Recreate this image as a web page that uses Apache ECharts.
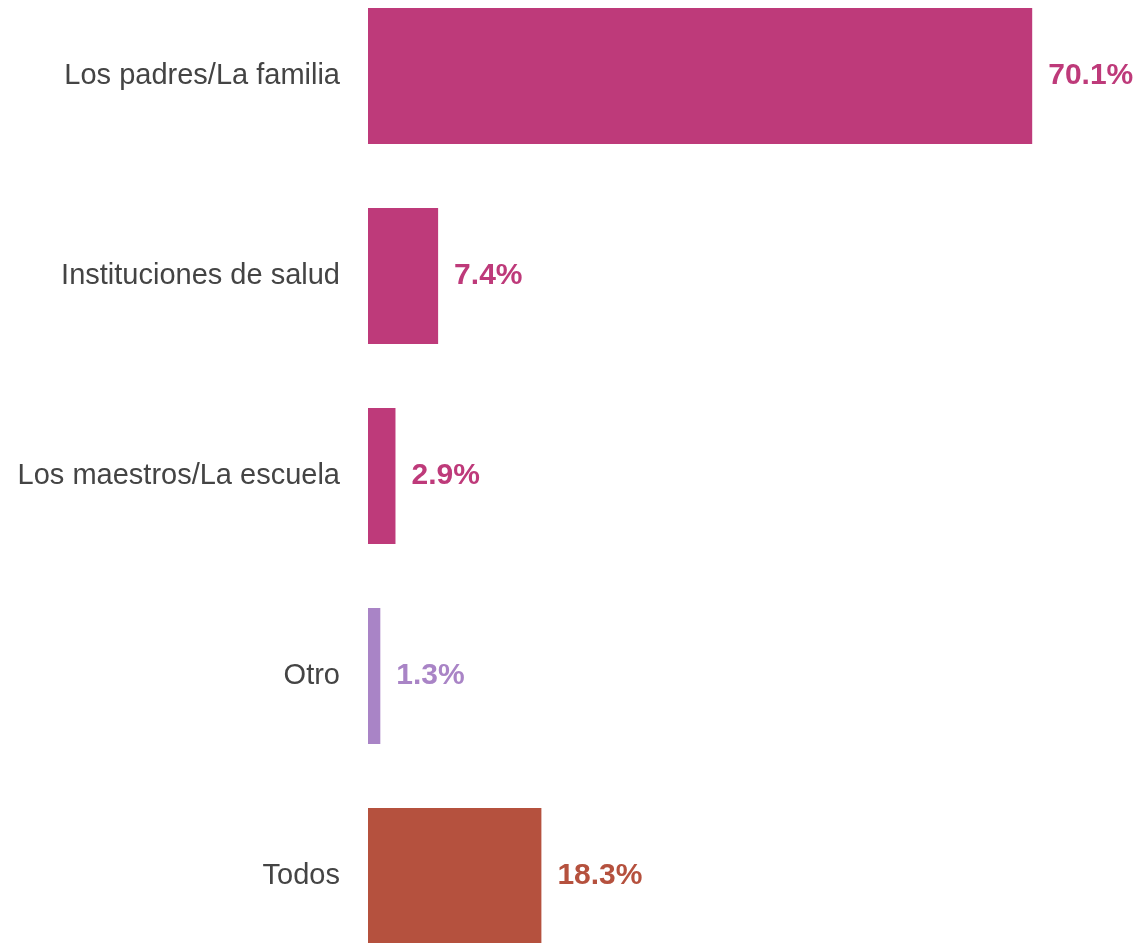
<!DOCTYPE html>
<html>
<head>
    <meta charset="utf-8">
    <title>Barras</title>
    <style>
        html, body { margin: 0; padding: 0; background: #fff; }
        #container { width: 1146px; height: 943px; }
    </style>
</head>
<body>
<div id="container"></div>
<script src="https://cdn.jsdelivr.net/npm/echarts@6/dist/echarts.min.js"></script>
<script type="text/javascript">
    var categories = ['Los padres/La familia', 'Instituciones de salud', 'Los maestros/La escuela', 'Otro', 'Todos'];
    var values = [70.1, 7.4, 2.9, 1.3, 18.3];
    var barColors = ['#BE3A7A', '#BE3A7A', '#BE3A7A', '#A984C6', '#B5513E'];

    var myChart = echarts.init(document.getElementById('container'));

    var option = {
        backgroundColor: '#fff',
        animation: false,
        grid: {
            left: 368,
            width: 758,
            top: -24,
            height: 1000,
            outerBoundsMode: 'none'
        },
        xAxis: {
            type: 'value',
            min: 0,
            max: 80,
            show: false
        },
        yAxis: {
            type: 'category',
            data: categories,
            inverse: true,
            axisLine: {show: false},
            axisTick: {show: false},
            axisLabel: {
                margin: 28,
                fontSize: 29,
                color: '#444',
                fontFamily: 'Liberation Sans'
            }
        },
        series: [{
            type: 'bar',
            barWidth: 136,
            data: values.map(function (v, i) {
                return {
                    value: v,
                    itemStyle: {color: barColors[i]},
                    label: {color: barColors[i]}
                };
            }),
            label: {
                show: true,
                position: 'right',
                distance: 16,
                fontSize: 30,
                fontWeight: 'bold',
                fontFamily: 'Liberation Sans',
                formatter: function (p) { return p.value.toFixed(1) + '%'; }
            }
        }]
    };

    myChart.setOption(option);
</script>
</body>
</html>
